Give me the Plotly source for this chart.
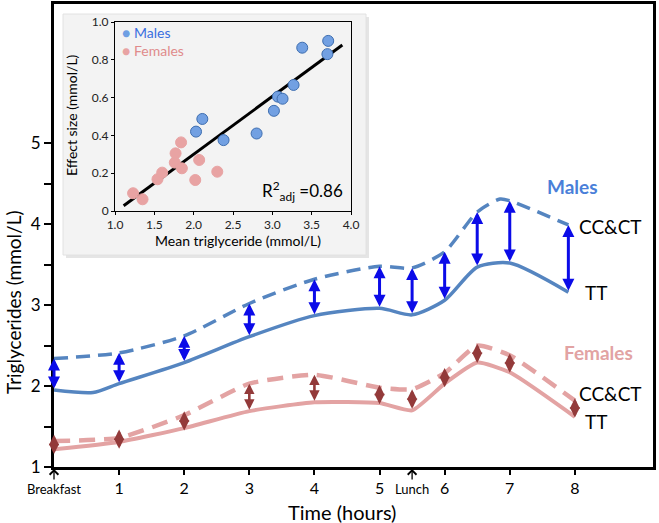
import plotly.graph_objects as go

# ---------------- data ----------------
# Main chart: triglycerides (mmol/L) by time (hours)
hours_m_tt = [0, 0.6, 1, 2, 3, 4, 5, 5.5, 6, 6.5, 7, 7.9]
males_tt = [1.95, 1.92, 2.03, 2.29, 2.61, 2.87, 2.96, 2.88, 3.06, 3.47, 3.52, 3.16]
hours_m_cc = [0, 1, 2, 3, 4, 5, 5.5, 6, 6.5, 6.85, 7, 7.9]
males_cc = [2.34, 2.41, 2.62, 3.02, 3.32, 3.48, 3.46, 3.66, 4.15, 4.31, 4.29, 3.99]
male_arrow_hours = [0, 1, 2, 3, 4, 5, 5.5, 6, 6.5, 7, 7.9]

hours_f = [0, 1, 2, 3, 4, 5, 5.5, 6, 6.5, 7, 8]
females_tt = [1.22, 1.31, 1.48, 1.69, 1.80, 1.79, 1.70, 2.03, 2.29, 2.17, 1.62]
females_cc = [1.32, 1.36, 1.64, 2.03, 2.14, 1.98, 1.96, 2.16, 2.50, 2.38, 1.82]

x_tickvals = [1, 2, 3, 4, 5, 6, 7, 8]
y_tickvals = [1, 2, 3, 4, 5]
y_minor_tickvals = [1.5, 2.5, 3.5, 4.5]

# Inset: effect size vs mean triglyceride
males_mean = [2.03, 2.11, 2.38, 2.80, 3.02, 3.07, 3.13, 3.27, 3.38, 3.70, 3.71]
males_eff = [0.42, 0.487, 0.375, 0.41, 0.53, 0.605, 0.594, 0.667, 0.864, 0.83, 0.90]
females_mean = [1.23, 1.35, 1.54, 1.60, 1.76, 1.77, 1.84, 1.85, 2.02, 2.07, 2.30]
females_eff = [0.094, 0.062, 0.168, 0.203, 0.256, 0.305, 0.363, 0.226, 0.164, 0.27, 0.208]
fit_x = [1.11, 3.89]
fit_y = [0.028, 0.878]
inset_xticks = [1.0, 1.5, 2.0, 2.5, 3.0, 3.5, 4.0]
inset_xticktext = ["1.0", "1.5", "2.0", "2.5", "3.0", "3.5", "4.0"]
inset_yticks = [0, 0.2, 0.4, 0.6, 0.8, 1.0]
inset_yticktext = ["0", "0.2", "0.4", "0.6", "0.8", "1.0"]

# ---------------- geometry ----------------
W, H = 659, 523
L, R, T, B = 54, 6, 4, 56
PW, PH = W - L - R, H - T - B
Y0, Y1 = 1, 6.72
UNIT_PX = PH / (Y1 - Y0)


def px(x):
    return (x - L) / PW


def py(y):
    return (H - B - y) / PH


FONT = "Lato, 'Open Sans', sans-serif"
MALE_LINE = "#5585c0"
FEM_LINE = "#e3a3a3"
MALE_ARROW = "#0b0be8"
FEM_ARROW = "#933a3a"

fig = go.Figure()

# main lines
fig.add_trace(go.Scatter(x=hours_m_cc, y=males_cc, mode="lines",
                         line=dict(color=MALE_LINE, width=3.5, dash="14px,8px", shape="spline", smoothing=0.7),
                         showlegend=False, hoverinfo="skip"))
fig.add_trace(go.Scatter(x=hours_m_tt, y=males_tt, mode="lines",
                         line=dict(color=MALE_LINE, width=3.5, shape="spline", smoothing=0.7),
                         showlegend=False, hoverinfo="skip"))
fig.add_trace(go.Scatter(x=hours_f, y=females_cc, mode="lines",
                         line=dict(color=FEM_LINE, width=4.5, dash="16px,9px", shape="spline", smoothing=0.5),
                         showlegend=False, hoverinfo="skip"))
fig.add_trace(go.Scatter(x=hours_f, y=females_tt, mode="lines",
                         line=dict(color=FEM_LINE, width=4, shape="spline", smoothing=0.5),
                         showlegend=False, hoverinfo="skip"))

# inset traces
fig.add_trace(go.Scatter(x=fit_x, y=fit_y, mode="lines", xaxis="x2", yaxis="y2",
                         line=dict(color="black", width=3), showlegend=False, hoverinfo="skip"))
fig.add_trace(go.Scatter(x=males_mean, y=males_eff, mode="markers", xaxis="x2", yaxis="y2",
                         name="Males", showlegend=False,
                         marker=dict(size=11, color="#72a0e2", line=dict(color="#3e6eb0", width=1))))
fig.add_trace(go.Scatter(x=females_mean, y=females_eff, mode="markers", xaxis="x2", yaxis="y2",
                         name="Females", showlegend=False,
                         marker=dict(size=11, color="#e8a3a3", line=dict(color="#e8a3a3", width=1))))

annotations = []

# double arrows (males)
mtt = dict(zip(hours_m_tt, males_tt))
mcc = dict(zip(hours_m_cc, males_cc))
for h in male_arrow_hours:
    annotations.append(dict(x=h, y=mcc[h], ax=h, ay=mtt[h], xref="x", yref="y", axref="x", ayref="y",
                            text="", showarrow=True, arrowhead=2, startarrowhead=2, arrowside="end+start",
                            arrowwidth=3, arrowsize=0.8, startarrowsize=0.8, arrowcolor=MALE_ARROW))

# double arrows (females) - short ones get a minimum drawn length (diamond look)
FEM_W, FEM_S = 2.6, 0.8
head_px = 5 * FEM_W * FEM_S
min_half = head_px / UNIT_PX
for h, a, b in zip(hours_f, females_tt, females_cc):
    mid = (a + b) / 2
    half = max((b - a) / 2, min_half)
    annotations.append(dict(x=h, y=mid + half, ax=h, ay=mid - half, xref="x", yref="y", axref="x", ayref="y",
                            text="", showarrow=True, arrowhead=2, startarrowhead=2, arrowside="end+start",
                            arrowwidth=FEM_W, arrowsize=FEM_S, startarrowsize=FEM_S, arrowcolor=FEM_ARROW))

# meal markers
for label, hx in [("Breakfast", 0), ("Lunch", 5.5)]:
    annotations.append(dict(x=hx, y=1, xref="x", yref="y", text=label, showarrow=True,
                            arrowhead=4, arrowsize=1.3, arrowwidth=1.3, arrowcolor="black",
                            ax=0, ay=22, standoff=2, font=dict(size=13, color="black")))

# group labels
annotations += [
    dict(x=7.97, y=4.47, xref="x", yref="y", text="<b>Males</b>", showarrow=False,
         font=dict(size=19, color="#4a7fd9")),
    dict(x=8.36, y=2.42, xref="x", yref="y", text="<b>Females</b>", showarrow=False,
         font=dict(size=19, color="#e2a3a3")),
    dict(x=8.03, y=3.97, xref="x", yref="y", text="CC&CT", xanchor="left", showarrow=False,
         font=dict(size=19, color="black")),
    dict(x=8.13, y=3.16, xref="x", yref="y", text="TT", xanchor="left", showarrow=False,
         font=dict(size=19, color="black")),
    dict(x=8.03, y=1.91, xref="x", yref="y", text="CC&CT", xanchor="left", showarrow=False,
         font=dict(size=19, color="black")),
    dict(x=8.13, y=1.56, xref="x", yref="y", text="TT", xanchor="left", showarrow=False,
         font=dict(size=19, color="black")),
]


def paper_text(x, y, text, size, color="black", angle=0, xanchor="center", align="center"):
    return dict(x=px(x), y=py(y), xref="paper", yref="paper", text=text, showarrow=False,
                xanchor=xanchor, yanchor="middle", textangle=angle, align=align,
                font=dict(size=size, color=color))


legend_text = ("<span style='color:#6f9fe3'>●</span> <span style='color:#3a6fe0'>Males</span><br>"
               "<span style='color:#e8a3a3'>●</span> <span style='color:#e08b8b'>Females</span>")

# axis titles, stats and inset legend
annotations += [
    paper_text(342, 512, "Time (hours)", 20),
    paper_text(13, 302, "Triglycerides (mmol/L)", 19, angle=-90),
    paper_text(238, 240, "Mean triglyceride (mmol/L)", 14),
    paper_text(72, 115, "Effect size (mmol/L)", 14, angle=-90),
    paper_text(345, 191, "R<sup>2</sup><sub>adj</sub> =0.86", 17, xanchor="right"),
    paper_text(120, 41, legend_text, 14, xanchor="left", align="left"),
]

shapes = [
    dict(type="rect", xref="paper", yref="paper", x0=px(66), x1=px(369), y0=py(258), y1=py(17),
         fillcolor="rgba(0,0,0,0.10)", line=dict(width=0), layer="below"),
    dict(type="rect", xref="paper", yref="paper", x0=px(63), x1=px(366), y0=py(255), y1=py(14),
         fillcolor="#f3f3f3", line=dict(color="#e2e2e2", width=1), layer="below"),
]

fig.update_layout(
    width=W, height=H, autosize=False,
    margin=dict(l=L, r=R, t=T, b=B, pad=0, autoexpand=False),
    paper_bgcolor="white", plot_bgcolor="rgba(0,0,0,0)",
    font=dict(family=FONT, color="black"),
    showlegend=False,
    xaxis=dict(domain=[0, 1], range=[0, 9.2], tickvals=x_tickvals, ticks="outside", ticklen=5,
               tickwidth=2, tickcolor="black", tickfont=dict(size=16), showline=True, mirror=True,
               linewidth=3, linecolor="black", showgrid=False, zeroline=False, fixedrange=True,
               automargin=False),
    yaxis=dict(domain=[0, 1], range=[Y0, Y1], tickvals=y_tickvals, ticks="outside",
               ticklen=7, tickwidth=2, tickcolor="black", tickfont=dict(size=17), showline=True, mirror=True,
               linewidth=3, linecolor="black", showgrid=False, zeroline=False, fixedrange=True,
               automargin=False,
               minor=dict(tickmode="array", tickvals=y_minor_tickvals, ticks="outside", ticklen=7,
                          tickwidth=2, tickcolor="black", showgrid=False)),
    xaxis2=dict(domain=[px(115), px(351)], anchor="y2", range=[1, 4], tickvals=inset_xticks,
                ticktext=inset_xticktext, ticks="outside", ticklen=3, tickcolor="black",
                tickfont=dict(size=12, color="#222"), showline=True, mirror=True, linewidth=1,
                linecolor="black", showgrid=False, zeroline=False, automargin=False),
    yaxis2=dict(domain=[py(211), py(22)], anchor="x2", range=[0, 1], tickvals=inset_yticks,
                ticktext=inset_yticktext, ticks="outside", ticklen=3, tickcolor="black",
                tickfont=dict(size=12, color="#222"), showline=True, mirror=True, linewidth=1,
                linecolor="black", showgrid=False, zeroline=False, automargin=False),
    annotations=annotations,
    shapes=shapes,
)

fig.write_html("out.html",
               config={"displayModeBar": False, "responsive": False},
               post_script="document.documentElement.style.margin='0';"
                           "document.body.style.margin='0';document.body.style.padding='0';"
                           "document.body.style.overflow='hidden';"
                           "var gd=document.getElementById('{plot_id}');"
                           "Plotly.relayout(gd,{width:659,height:523});")
